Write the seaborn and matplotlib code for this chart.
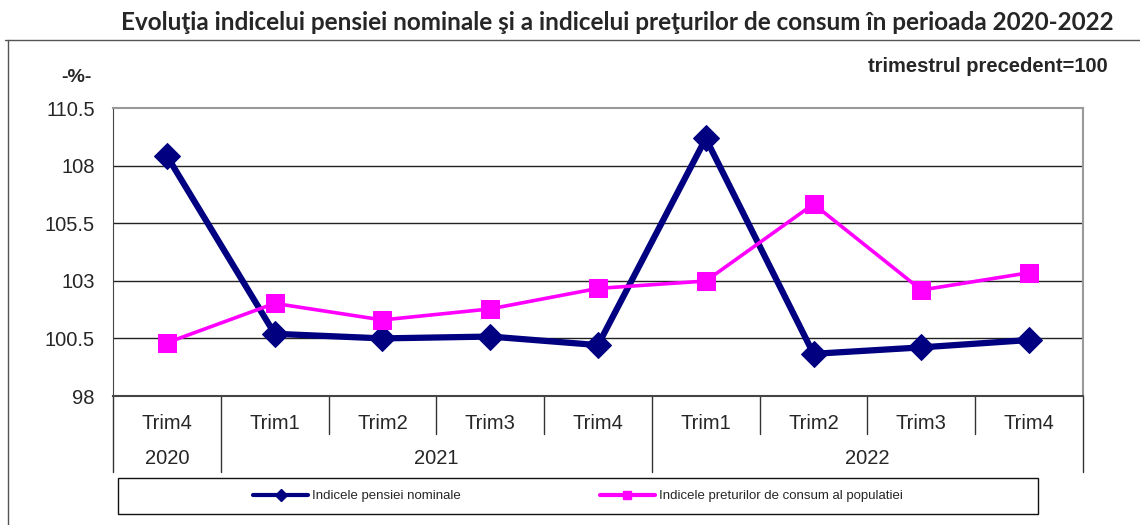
import numpy as np
import pandas as pd
import matplotlib
matplotlib.use("Agg")
import matplotlib.pyplot as plt
import matplotlib.transforms as mtransforms
from matplotlib.lines import Line2D
from matplotlib.patches import Rectangle
import seaborn as sns

# data
quarters = ["Trim4", "Trim1", "Trim2", "Trim3", "Trim4", "Trim1", "Trim2", "Trim3", "Trim4"]
years = ["2020", "2021", "2021", "2021", "2021", "2022", "2022", "2022", "2022"]
pensie = [108.42, 100.7, 100.5, 100.58, 100.21, 109.18, 99.83, 100.11, 100.43]
preturi = [100.31, 102.02, 101.3, 101.78, 102.67, 102.99, 106.33, 102.6, 103.35]
yticks = [98, 100.5, 103, 105.5, 108, 110.5]

name_pensie = "Indicele pensiei nominale"
name_preturi = "Indicele preturilor de consum al populatiei"


def main():
    sns.set_style("white")
    plt.rcParams["font.family"] = ["Liberation Sans", "DejaVu Sans"]

    pos = np.arange(len(quarters))
    df = pd.DataFrame({
        "pos": np.concatenate([pos, pos]),
        "value": pensie + preturi,
        "serie": [name_pensie] * len(pos) + [name_preturi] * len(pos),
    })

    fig = plt.figure(figsize=(11.4, 5.25), dpi=100)
    ax = fig.add_axes([113 / 1140, 1 - 396 / 525, 970 / 1140, 288 / 525])

    sns.lineplot(data=df[df.serie == name_pensie], x="pos", y="value", ax=ax,
                 color="#000080", linewidth=4.5, marker="D", markersize=13,
                 markeredgecolor="#000080", legend=False)
    sns.lineplot(data=df[df.serie == name_preturi], x="pos", y="value", ax=ax,
                 color="#FF00FF", linewidth=2.6, marker="s", markersize=13,
                 markeredgecolor="#FF00FF", legend=False)

    ax.set_ylim(yticks[0], yticks[-1])
    ax.set_yticks(yticks)
    ax.set_yticklabels([f"{t:g}" for t in yticks], fontsize=14.5)
    ax.tick_params(axis="y", direction="out", length=4, color="#444444", pad=9)
    for t in yticks[1:-1]:
        ax.axhline(t, color="#222222", linewidth=1, zorder=0)

    ax.set_xlim(-0.5, len(quarters) - 0.5)
    ax.set_xticks(pos)
    ax.set_xticklabels(quarters, fontsize=14.5)
    ax.tick_params(axis="x", length=0, pad=13)
    ax.set_xlabel("")
    ax.set_ylabel("")

    for side in ["top", "right"]:
        ax.spines[side].set_color("#999999")
        ax.spines[side].set_linewidth(1.5)
    ax.spines["left"].set_color("#444444")
    ax.spines["bottom"].set_color("#444444")
    ax.spines["bottom"].set_linewidth(1.5)

    # category separators below the plot
    trans = mtransforms.blended_transform_factory(ax.transData, ax.transAxes)
    bounds = np.arange(len(quarters) + 1) - 0.5
    group_edges = [0] + [i for i in range(1, len(years)) if years[i] != years[i - 1]] + [len(years)]
    for b in bounds:
        idx = int(b + 0.5)
        long_line = idx in group_edges
        y_end = -76 / 288 if long_line else -38 / 288
        ax.add_line(Line2D([b, b], [0, y_end], transform=trans, color="#333333",
                           linewidth=1, clip_on=False))
    for a, b in zip(group_edges[:-1], group_edges[1:]):
        ax.text((a + b - 1) / 2, -62 / 288, years[a], transform=trans,
                ha="center", va="center", fontsize=14.5)

    # texts
    fig.text(617 / 1140, 1 - 22 / 525,
             "Evoluţia indicelui pensiei nominale şi a indicelui preţurilor de consum în perioada 2020-2022",
             ha="center", va="center", fontsize=17.5, fontweight="bold", family=["Lato", "DejaVu Sans"])
    fig.text(1108 / 1140, 1 - 67 / 525, "trimestrul precedent=100",
             ha="right", va="center", fontsize=14.5, fontweight="bold")
    fig.text(76 / 1140, 1 - 77 / 525, "-%-", ha="center", va="center",
             fontsize=14, fontweight="bold")

    # outer frame
    fig.add_artist(Line2D([5 / 1140, 1], [1 - 40 / 525, 1 - 40 / 525],
                          transform=fig.transFigure, color="#555555", linewidth=1))
    fig.add_artist(Line2D([8 / 1140, 8 / 1140], [0, 1 - 40 / 525],
                          transform=fig.transFigure, color="#555555", linewidth=1))

    # legend box
    box = (118 / 1140, 1 - 514 / 525, 920 / 1140, 36 / 525)
    fig.add_artist(Rectangle(box[:2], box[2], box[3], transform=fig.transFigure,
                             fill=False, edgecolor="#111111", linewidth=1))
    handles = [
        Line2D([], [], color="#000080", linewidth=3, marker="D", markersize=6),
        Line2D([], [], color="#FF00FF", linewidth=3, marker="s", markersize=6),
    ]
    fig.legend(handles, [name_pensie, name_preturi], loc="center",
               bbox_to_anchor=box, ncol=2, frameon=False, handlelength=4.2,
               columnspacing=10.5, handletextpad=0.3,
               prop={"family": ["Liberation Sans Narrow", "Liberation Sans"], "size": 9.5})

    fig.savefig("out.png", dpi=100)


if __name__ == "__main__":
    main()
